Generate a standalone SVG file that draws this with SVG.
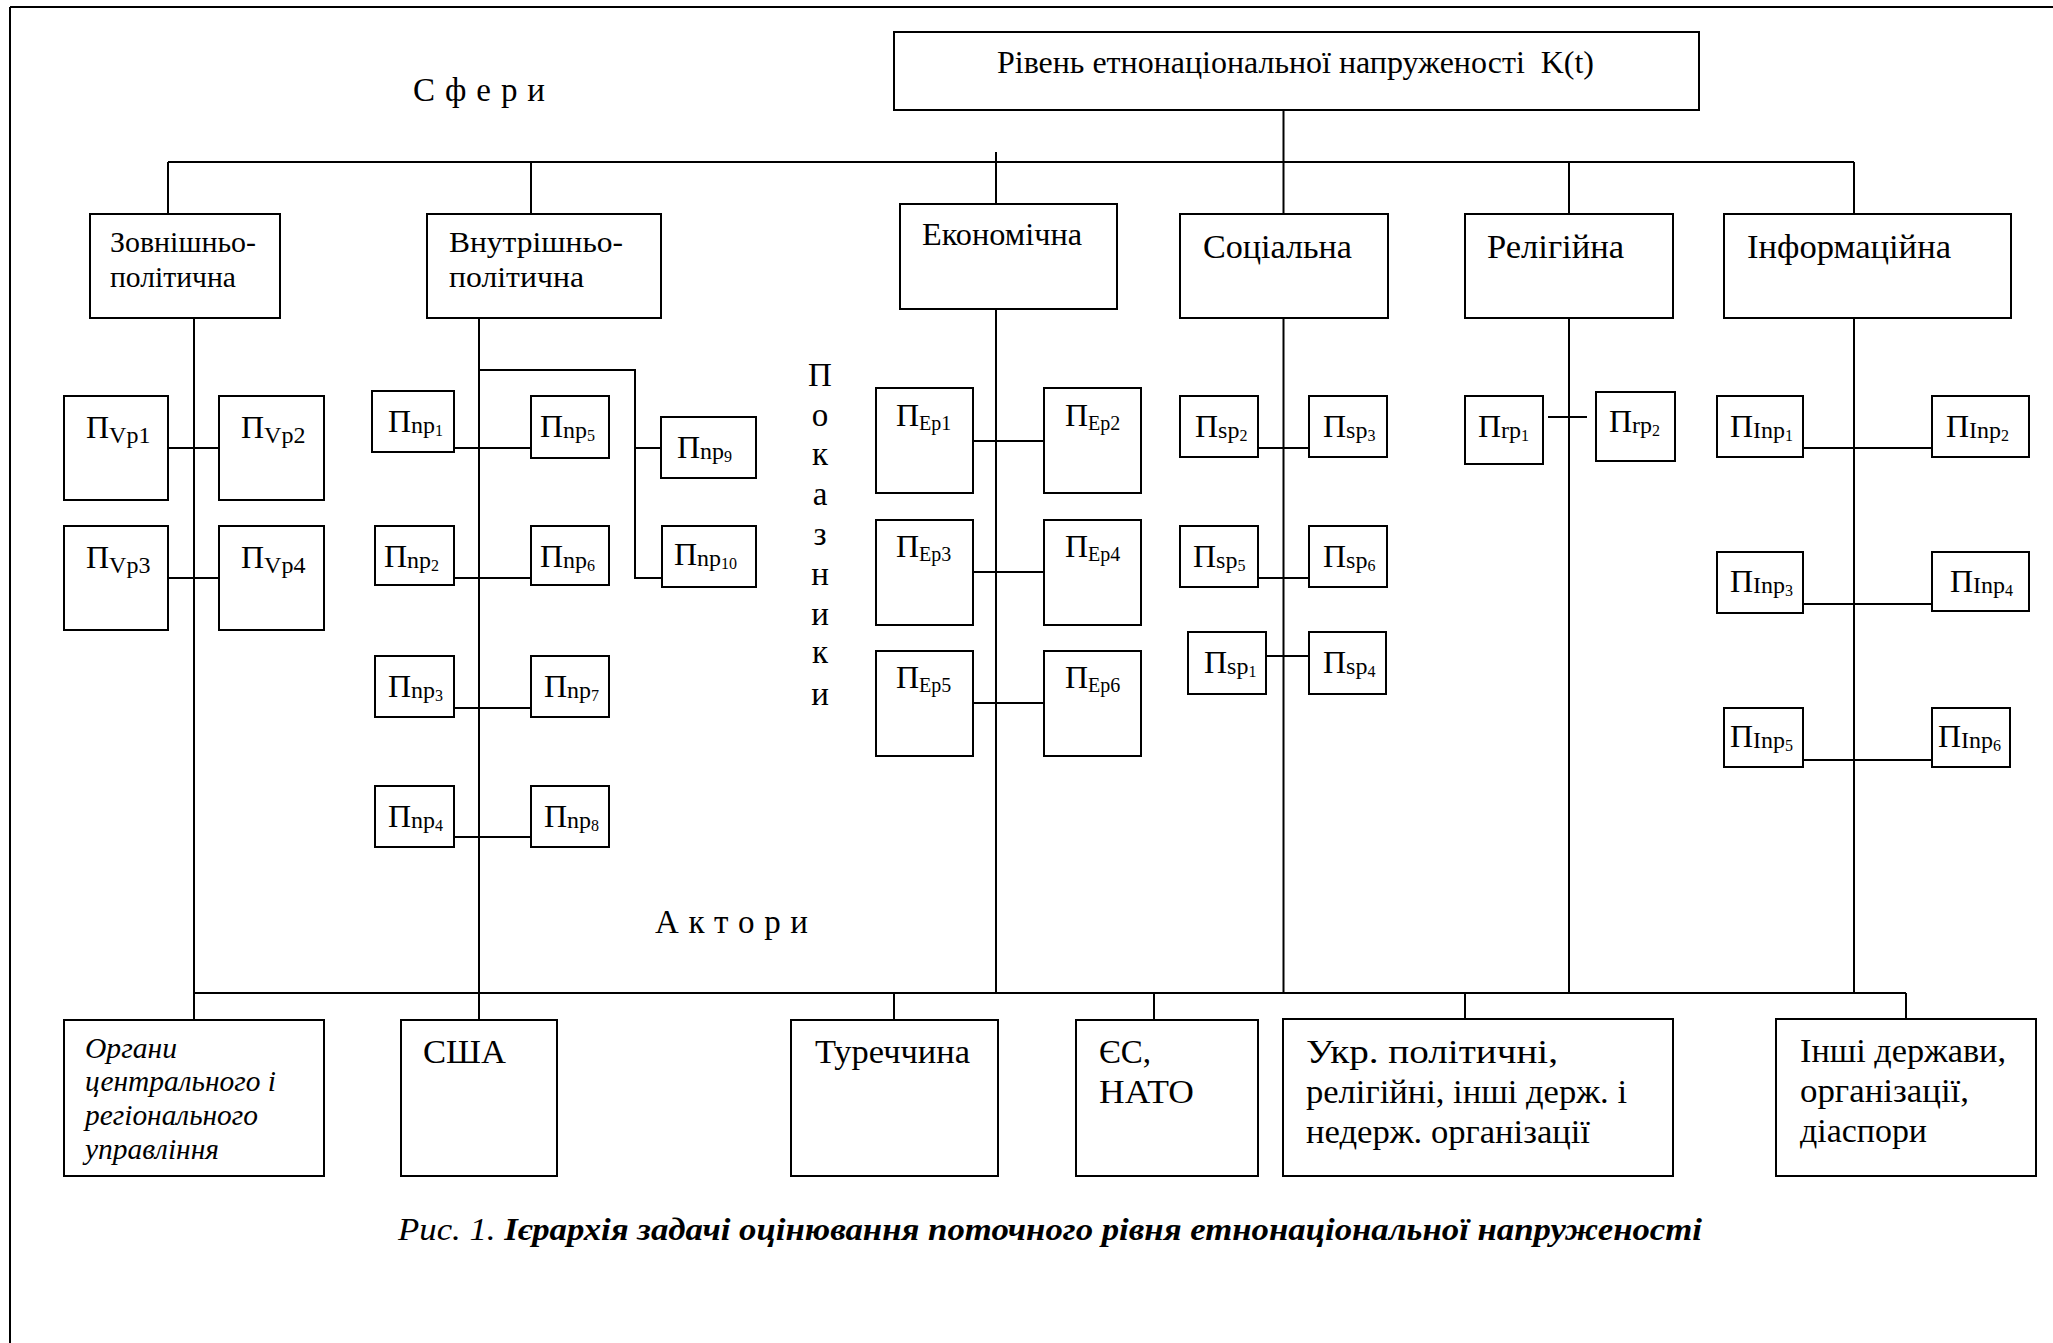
<svg xmlns="http://www.w3.org/2000/svg" width="2053" height="1343" viewBox="0 0 2053 1343">
<style>
.b{fill:#fff;stroke:#000;stroke-width:2}
.c{fill:none;stroke:#000;stroke-width:2}
.t{font-family:"Liberation Serif","Times New Roman",serif;font-size:31px;fill:#000}
.S{font-size:30px}
.L{font-size:33px}
.i{font-family:"Liberation Serif","Times New Roman",serif;font-size:29px;font-style:italic;fill:#000}
.p{font-family:"Liberation Serif","Times New Roman",serif;font-size:32px;fill:#000}
.sv{font-size:24px}
.se{font-size:20px}
.sn{font-size:24px}
.sd{font-size:16px}
.cap{font-family:"Liberation Serif","Times New Roman",serif;font-size:31px;font-style:italic;fill:#000}
</style>
<rect width="2053" height="1343" fill="#fff"/>
<path class="c" d="M10 7H2053M10 7V1343" stroke-width="3"/>
<g id="connectors">
<path class="c" d="M1283.5 110V162M168 162H1854M168 162V214M531 162V214M996 152V204M1283.5 162V214M1569 162V214M1854 162V214" stroke-width="2.5"/>
<path class="c" d="M194 318V993M479 318V1020M996 309V993M1283.5 318V993M1569 318V993M1854 318V993"/>
<path class="c" d="M194 993H1906M194 993V1020M894 993V1020M1154 993V1020M1465 993V1019M1906 993V1019" stroke-width="2.5"/>
<path class="c" d="M168 448H219M168 578H219"/>
<path class="c" d="M454 448H531M454 578H531M454 708H531M454 837H531M479 370H635V578H662M635 448H661"/>
<path class="c" d="M973 441H1044M973 572H1044M973 703H1044"/>
<path class="c" d="M1258 448H1309M1258 578H1309M1260 656H1309"/>
<path class="c" d="M1548 417H1587"/>
<path class="c" d="M1803 448H1932M1803 604H1932M1803 760H1932"/>
</g>
<g id="top"><rect class="b" x="894" y="32" width="805" height="78"/><text class="t" x="997" y="73" xml:space="preserve" textLength="597" lengthAdjust="spacingAndGlyphs">Рівень етнонаціональної напруженості  K(t)</text></g>
<text id="sfery" class="t L" x="413" y="101" textLength="132" lengthAdjust="spacing">С ф е р и</text>
<g id="zovn"><rect class="b" x="90" y="214" width="190" height="104"/><text class="t S" x="110" y="252" textLength="146" lengthAdjust="spacingAndGlyphs">Зовнішньо-</text><text class="t S" x="110" y="287" textLength="126" lengthAdjust="spacingAndGlyphs">політична</text></g>
<g id="vnutr"><rect class="b" x="427" y="214" width="234" height="104"/><text class="t S" x="449" y="252" textLength="174" lengthAdjust="spacingAndGlyphs">Внутрішньо-</text><text class="t S" x="449" y="287" textLength="135" lengthAdjust="spacingAndGlyphs">політична</text></g>
<g id="econ"><rect class="b" x="900" y="204" width="217" height="105"/><text class="t" x="922" y="245" textLength="160" lengthAdjust="spacingAndGlyphs">Економічна</text></g>
<g id="soc"><rect class="b" x="1180" y="214" width="208" height="104"/><text class="t L" x="1203" y="258" textLength="149" lengthAdjust="spacingAndGlyphs">Соціальна</text></g>
<g id="rel"><rect class="b" x="1465" y="214" width="208" height="104"/><text class="t L" x="1487" y="258" textLength="137" lengthAdjust="spacingAndGlyphs">Релігійна</text></g>
<g id="inf"><rect class="b" x="1724" y="214" width="287" height="104"/><text class="t L" x="1747" y="258" textLength="204" lengthAdjust="spacingAndGlyphs">Інформаційна</text></g>
<g id="pokaznyky" class="t L" text-anchor="middle">
<text x="820" y="386">П</text><text x="820" y="426">о</text><text x="820" y="465">к</text><text x="820" y="505">а</text><text x="820" y="545">з</text><text x="820" y="585">н</text><text x="820" y="625">и</text><text x="820" y="663">к</text><text x="820" y="705">и</text>
</g>
<g id="vp1"><rect class="b" x="64" y="396" width="104" height="104"/><text class="p" x="86" y="438">П<tspan class="sv" dy="5">Vp1</tspan></text></g>
<g id="vp2"><rect class="b" x="219" y="396" width="105" height="104"/><text class="p" x="241" y="438">П<tspan class="sv" dy="5">Vp2</tspan></text></g>
<g id="vp3"><rect class="b" x="64" y="526" width="104" height="104"/><text class="p" x="86" y="568">П<tspan class="sv" dy="5">Vp3</tspan></text></g>
<g id="vp4"><rect class="b" x="219" y="526" width="105" height="104"/><text class="p" x="241" y="568">П<tspan class="sv" dy="5">Vp4</tspan></text></g>
<g id="np1"><rect class="b" x="372" y="391" width="82" height="61"/><text class="p" x="388" y="432">П<tspan class="sn" dy="1">np</tspan><tspan class="sd" dy="3">1</tspan></text></g>
<g id="np5"><rect class="b" x="531" y="396" width="78" height="62"/><text class="p" x="540" y="437">П<tspan class="sn" dy="1">np</tspan><tspan class="sd" dy="3">5</tspan></text></g>
<g id="np2"><rect class="b" x="375" y="526" width="79" height="59"/><text class="p" x="384" y="567">П<tspan class="sn" dy="1">np</tspan><tspan class="sd" dy="3">2</tspan></text></g>
<g id="np6"><rect class="b" x="531" y="526" width="78" height="59"/><text class="p" x="540" y="567">П<tspan class="sn" dy="1">np</tspan><tspan class="sd" dy="3">6</tspan></text></g>
<g id="np3"><rect class="b" x="375" y="656" width="79" height="61"/><text class="p" x="388" y="697">П<tspan class="sn" dy="1">np</tspan><tspan class="sd" dy="3">3</tspan></text></g>
<g id="np7"><rect class="b" x="531" y="656" width="78" height="61"/><text class="p" x="544" y="697">П<tspan class="sn" dy="1">np</tspan><tspan class="sd" dy="3">7</tspan></text></g>
<g id="np4"><rect class="b" x="375" y="786" width="79" height="61"/><text class="p" x="388" y="827">П<tspan class="sn" dy="1">np</tspan><tspan class="sd" dy="3">4</tspan></text></g>
<g id="np8"><rect class="b" x="531" y="786" width="78" height="61"/><text class="p" x="544" y="827">П<tspan class="sn" dy="1">np</tspan><tspan class="sd" dy="3">8</tspan></text></g>
<g id="np9"><rect class="b" x="661" y="417" width="95" height="61"/><text class="p" x="677" y="458">П<tspan class="sn" dy="1">np</tspan><tspan class="sd" dy="3">9</tspan></text></g>
<g id="np10"><rect class="b" x="662" y="526" width="94" height="61"/><text class="p" x="674" y="565">П<tspan class="sn" dy="1">np</tspan><tspan class="sd" dy="3">10</tspan></text></g>
<g id="ep1"><rect class="b" x="876" y="388" width="97" height="105"/><text class="p" x="896" y="426">П<tspan class="se" dy="4">Ep1</tspan></text></g>
<g id="ep2"><rect class="b" x="1044" y="388" width="97" height="105"/><text class="p" x="1065" y="426">П<tspan class="se" dy="4">Ep2</tspan></text></g>
<g id="ep3"><rect class="b" x="876" y="520" width="97" height="105"/><text class="p" x="896" y="557">П<tspan class="se" dy="4">Ep3</tspan></text></g>
<g id="ep4"><rect class="b" x="1044" y="520" width="97" height="105"/><text class="p" x="1065" y="557">П<tspan class="se" dy="4">Ep4</tspan></text></g>
<g id="ep5"><rect class="b" x="876" y="651" width="97" height="105"/><text class="p" x="896" y="688">П<tspan class="se" dy="4">Ep5</tspan></text></g>
<g id="ep6"><rect class="b" x="1044" y="651" width="97" height="105"/><text class="p" x="1065" y="688">П<tspan class="se" dy="4">Ep6</tspan></text></g>
<g id="sp2"><rect class="b" x="1180" y="396" width="78" height="61"/><text class="p" x="1195" y="437">П<tspan class="sn" dy="1">sp</tspan><tspan class="sd" dy="3">2</tspan></text></g>
<g id="sp3"><rect class="b" x="1309" y="396" width="78" height="61"/><text class="p" x="1323" y="437">П<tspan class="sn" dy="1">sp</tspan><tspan class="sd" dy="3">3</tspan></text></g>
<g id="sp5"><rect class="b" x="1180" y="526" width="78" height="61"/><text class="p" x="1193" y="567">П<tspan class="sn" dy="1">sp</tspan><tspan class="sd" dy="3">5</tspan></text></g>
<g id="sp6"><rect class="b" x="1309" y="526" width="78" height="61"/><text class="p" x="1323" y="567">П<tspan class="sn" dy="1">sp</tspan><tspan class="sd" dy="3">6</tspan></text></g>
<g id="sp1"><rect class="b" x="1188" y="632" width="78" height="62"/><text class="p" x="1204" y="673">П<tspan class="sn" dy="1">sp</tspan><tspan class="sd" dy="3">1</tspan></text></g>
<g id="sp4"><rect class="b" x="1309" y="632" width="77" height="62"/><text class="p" x="1323" y="673">П<tspan class="sn" dy="1">sp</tspan><tspan class="sd" dy="3">4</tspan></text></g>
<g id="rp1"><rect class="b" x="1465" y="396" width="78" height="68"/><text class="p" x="1478" y="437">П<tspan class="sn" dy="1">rp</tspan><tspan class="sd" dy="3">1</tspan></text></g>
<g id="rp2"><rect class="b" x="1596" y="392" width="79" height="69"/><text class="p" x="1609" y="432">П<tspan class="sn" dy="1">rp</tspan><tspan class="sd" dy="3">2</tspan></text></g>
<g id="inp1"><rect class="b" x="1717" y="396" width="86" height="61"/><text class="p" x="1730" y="437">П<tspan class="sn" dy="1">Inp</tspan><tspan class="sd" dy="3">1</tspan></text></g>
<g id="inp2"><rect class="b" x="1932" y="396" width="97" height="61"/><text class="p" x="1946" y="437">П<tspan class="sn" dy="1">Inp</tspan><tspan class="sd" dy="3">2</tspan></text></g>
<g id="inp3"><rect class="b" x="1717" y="552" width="86" height="61"/><text class="p" x="1730" y="592">П<tspan class="sn" dy="1">Inp</tspan><tspan class="sd" dy="3">3</tspan></text></g>
<g id="inp4"><rect class="b" x="1932" y="552" width="97" height="59"/><text class="p" x="1950" y="592">П<tspan class="sn" dy="1">Inp</tspan><tspan class="sd" dy="3">4</tspan></text></g>
<g id="inp5"><rect class="b" x="1724" y="708" width="79" height="59"/><text class="p" x="1730" y="747">П<tspan class="sn" dy="1">Inp</tspan><tspan class="sd" dy="3">5</tspan></text></g>
<g id="inp6"><rect class="b" x="1932" y="708" width="78" height="59"/><text class="p" x="1938" y="747">П<tspan class="sn" dy="1">Inp</tspan><tspan class="sd" dy="3">6</tspan></text></g>
<text id="aktory" class="t L" x="655" y="933" textLength="153" lengthAdjust="spacing">А к т о р и</text>
<g id="organy"><rect class="b" x="64" y="1020" width="260" height="156"/>
<text class="i" x="85" y="1058" textLength="92" lengthAdjust="spacingAndGlyphs">Органи</text>
<text class="i" x="85" y="1091" textLength="191" lengthAdjust="spacingAndGlyphs">центрального і</text>
<text class="i" x="85" y="1125" textLength="173" lengthAdjust="spacingAndGlyphs">регіонального</text>
<text class="i" x="85" y="1159" textLength="134" lengthAdjust="spacingAndGlyphs">управління</text></g>
<g id="usa"><rect class="b" x="401" y="1020" width="156" height="156"/><text class="t L" x="423" y="1063" textLength="83" lengthAdjust="spacingAndGlyphs">США</text></g>
<g id="turk"><rect class="b" x="791" y="1020" width="207" height="156"/><text class="t L" x="815" y="1063" textLength="155" lengthAdjust="spacingAndGlyphs">Туреччина</text></g>
<g id="eu"><rect class="b" x="1076" y="1020" width="182" height="156"/><text class="t L" x="1099" y="1063">ЄС,</text><text class="t L" x="1099" y="1103" textLength="95" lengthAdjust="spacingAndGlyphs">НАТО</text></g>
<g id="ukr"><rect class="b" x="1283" y="1019" width="390" height="157"/>
<text class="t L" x="1306" y="1063" textLength="252" lengthAdjust="spacingAndGlyphs">Укр. політичні,</text>
<text class="t L" x="1306" y="1103" textLength="321" lengthAdjust="spacingAndGlyphs">релігійні, інші держ. і</text>
<text class="t L" x="1306" y="1143" textLength="284" lengthAdjust="spacingAndGlyphs">недерж. організації</text></g>
<g id="other"><rect class="b" x="1776" y="1019" width="260" height="157"/>
<text class="t L" x="1800" y="1062" textLength="206" lengthAdjust="spacingAndGlyphs">Інші держави,</text>
<text class="t L" x="1800" y="1102" textLength="169" lengthAdjust="spacingAndGlyphs">організації,</text>
<text class="t L" x="1800" y="1142" textLength="127" lengthAdjust="spacingAndGlyphs">діаспори</text></g>
<text id="caption" class="cap" x="398" y="1240" textLength="1304" lengthAdjust="spacingAndGlyphs">Рис. 1. <tspan font-weight="bold">Ієрархія задачі оцінювання поточного рівня етнонаціональної напруженості</tspan></text>
</svg>
